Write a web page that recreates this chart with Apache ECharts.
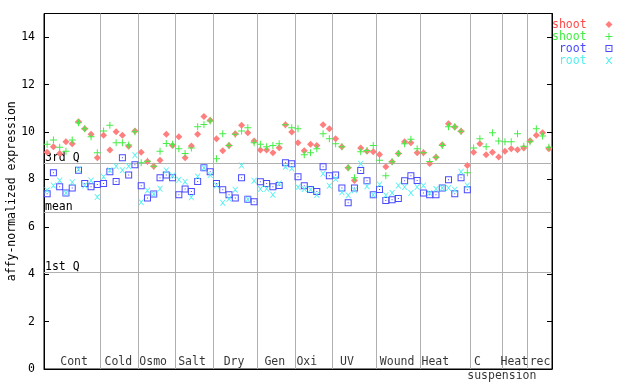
<!DOCTYPE html>
<html><head><meta charset="utf-8">
<script src="https://cdn.jsdelivr.net/npm/echarts@6/dist/echarts.min.js"></script>
<style>html,body{margin:0;padding:0;background:#fff}#c{width:640px;height:384px}</style>
</head><body><div id="c"></div>
<script>
// ---- data ----
const groupNames = ['Cont','Cold','Osmo','Salt','Dry','Gen','Oxi','UV','Wound','Heat','C','Heat','rec'];
const groupSizes = [9,6,6,6,7,6,6,7,7,8,5,4,4];
const groupLabelAt = [4.8,11.85,17.4,23.6,30.3,36.8,41.9,48.3,56.3,62.4,69.1,75.0,79.1];
const subLabel = 'suspension';
const subLabelAt = 73.0;

const shootA = [9.15,9.38,9.09,9.59,9.50,10.43,10.14,9.90,8.91,
  9.86,9.24,10.01,9.86,9.40,10.04,
  9.15,8.76,8.56,8.81,9.90,9.43,
  9.80,8.91,9.41,9.90,10.65,10.50,
  9.72,9.21,9.43,9.93,10.28,9.97,9.62,
  9.24,9.24,9.12,9.34,10.31,10.00,
  9.55,9.21,9.48,9.43,10.31,10.14,
  9.71,9.38,8.49,7.95,9.33,9.19,9.17,
  9.05,8.53,8.74,9.09,9.59,9.55,9.12,
  9.12,8.67,8.93,9.46,10.35,10.21,10.03,8.59,
  9.15,9.50,9.04,9.15,8.95,
  9.19,9.29,9.25,9.33,
  9.63,9.86,9.97,9.29];
const shootB = [9.48,9.66,9.36,9.19,9.66,10.39,10.14,9.80,9.12,
  10.04,10.28,9.55,9.55,9.45,10.01,
  8.70,8.77,8.56,9.19,9.52,9.48,
  9.29,9.09,9.33,10.22,10.32,10.46,
  8.87,9.93,9.43,9.90,10.04,10.18,9.55,
  9.48,9.38,9.43,9.50,10.31,10.18,
  10.14,9.04,9.12,9.29,9.93,9.72,
  9.50,9.38,8.49,8.07,9.17,9.22,9.43,
  8.81,8.15,8.74,9.09,9.50,9.69,9.29,
  9.12,8.76,8.93,9.43,10.22,10.22,10.03,8.28,
  9.33,9.72,9.38,9.97,9.62,
  9.59,9.59,9.93,9.40,
  9.59,10.14,9.83,9.36];
const rootA = [7.39,8.28,7.69,7.43,7.64,8.39,7.83,7.69,7.78,
  7.83,8.32,7.91,8.91,8.19,8.62,
  7.73,7.22,7.38,8.07,8.19,8.07,
  7.35,7.60,7.49,7.91,8.49,8.32,
  7.83,7.56,7.35,7.22,8.07,7.16,7.06,
  7.90,7.83,7.69,7.74,8.70,8.66,
  8.11,7.73,7.57,7.49,8.53,8.15,
  8.19,7.64,7.01,7.64,8.38,7.94,7.35,
  7.57,7.11,7.14,7.19,7.94,8.15,7.95,
  7.43,7.35,7.35,7.64,7.99,7.39,8.07,7.56,
  null,null,null,null,null,
  null,null,null,null,
  null,null,null,null];
const rootB = [7.54,7.74,7.95,7.43,7.88,8.42,7.74,7.95,7.26,
  8.11,8.39,8.56,8.39,8.56,9.02,
  7.04,7.53,7.38,7.61,8.38,8.16,
  7.99,7.90,7.25,8.12,8.49,8.19,
  7.74,7.01,7.18,7.56,8.59,7.16,7.94,
  7.60,7.61,7.35,7.83,8.53,8.46,
  7.67,7.60,7.57,7.35,8.24,7.73,
  8.02,7.46,7.33,7.54,8.66,7.71,7.35,
  7.78,7.33,7.43,7.74,7.68,7.43,7.68,
  7.74,7.43,7.60,7.64,7.64,7.56,8.32,7.74,
  null,null,null,null,null,
  null,null,null,null,
  null,null,null,null];

const quantileNames = ['3rd Q','mean','1st Q'];
const quantileValues = [8.70,6.63,4.08];
const yTicks = [0,2,4,6,8,10,12,14];
const seriesIds = ['s1','s2','r1','r2'];
const seriesLabels = ['shoot','shoot','root','root'];
const yTitle = 'affy-normalized expression';

// ---- styles ----
const FONT = 'DejaVu Sans Mono';
const FS = 11.5;
const colors = ['#ff4a4a','#44ee44','#4a4aff','#55f0f0'];
const symbols = [
  'diamond',
  'path://M3,0H4V3H7V4H4V7H3V4H0V3H3Z',
  'path://M0,0H7V7H0Z M1,1V6H6V1Z M3,3H4V4H3Z',
  'path://M0,0H1.2L3.5,2.5L5.8,0H7L4.1,3.5L7,7H5.8L3.5,4.5L1.2,7H0L2.9,3.5Z'
];
const symbolSizes = [7,7,7,6];
const fillColors = ['#ff7e7e','#44ee44','#4a4aff','#55f0f0'];

const total = groupSizes.reduce((a,b)=>a+b,0);
const bounds = [];
{ let s = 0; for (let i = 0; i < groupSizes.length - 1; i++) { s += groupSizes[i]; bounds.push(s); } }

function pts(arr){ return arr.map((v,i)=> v==null ? null : [i+0.5, v]).filter(p=>p); }
const allSeries = [shootA, shootB, rootA, rootB];

const chart = echarts.init(document.getElementById('c'), null, {renderer:'canvas'});
const series = [];
series.push({
  type:'scatter', name:'_v', data:[], silent:true, z:1,
  markLine:{ silent:true, z:1, symbol:['none','none'], animation:false,
    label:{show:false}, lineStyle:{color:'#b0b0b0', width:1, type:'solid'},
    emphasis:{disabled:true},
    data: bounds.map(b=>({xAxis:b})) }
});
series.push({
  type:'scatter', name:'_h', data:[], silent:true, z:1,
  markLine:{ silent:true, z:1, symbol:['none','none'], animation:false,
    lineStyle:{color:'#b0b0b0', width:1, type:'solid'},
    emphasis:{disabled:true},
    label:{show:true, position:'insideStartTop', formatter:'{b}', distance:[1,-1],
      color:'#000', fontFamily:FONT, fontSize:FS},
    data: quantileValues.map((v,i)=>({yAxis:v, name:quantileNames[i]})) }
});
allSeries.forEach((arr,k)=>{
  series.push({
    type:'scatter', name:seriesIds[k], data:pts(arr), z:2+k,
    symbol:symbols[k], symbolSize:symbolSizes[k],
    itemStyle:{color:fillColors[k], opacity:1},
    emphasis:{disabled:true}, clip:false
  });
});
series.push({
  type:'scatter', name:'_labels', silent:true, z:10, clip:false,
  symbolSize:1, itemStyle:{color:'rgba(0,0,0,0)'},
  data: groupNames.map((n,i)=>({value:[groupLabelAt[i],0], name:n}))
    .concat([{value:[subLabelAt,0], name:subLabel,
      label:{position:'bottom', distance:1}}]),
  label:{show:true, position:'top', distance:0, formatter:'{b}',
    color:'#000', fontFamily:FONT, fontSize:FS}
});

chart.setOption({
  animation:false,
  backgroundColor:'#fff',
  grid:{left:44, right:88, top:13.5, bottom:15, show:true, borderColor:'#000', borderWidth:1,
    backgroundColor:'transparent', containLabel:false, outerBoundsMode:'none'},
  xAxis:{type:'value', min:0, max:total,
    axisLine:{show:true, lineStyle:{color:'#000'}}, axisTick:{show:false},
    axisLabel:{show:false}, splitLine:{show:false}},
  yAxis:[{type:'value', min:0, max:15, interval:2, position:'left',
    axisLine:{show:true, lineStyle:{color:'#000'}},
    axisTick:{show:true, inside:true, length:5, lineStyle:{color:'#000'}},
    axisLabel:{margin:9, color:'#000', fontFamily:FONT, fontSize:FS, showMaxLabel:false,
      formatter:v=> yTicks.includes(v) ? String(v) : ''},
    splitLine:{show:false},
    name:yTitle, nameLocation:'middle', nameGap:26, nameRotate:90, nameMoveOverlap:false,
    nameTextStyle:{color:'#000', fontFamily:FONT, fontSize:FS}},
   {type:'value', min:0, max:15, interval:2, position:'right',
    axisLine:{show:true, lineStyle:{color:'#000'}},
    axisTick:{show:true, inside:true, length:5, lineStyle:{color:'#000'}},
    axisLabel:{show:false}, splitLine:{show:false}}],
  legend:{orient:'vertical', left:552, top:18.6, padding:0, itemGap:0,
    itemWidth:7, itemHeight:7, align:'right', selectedMode:false,
    data: seriesIds.map((id,k)=>({name:id, textStyle:{color:colors[k]}})),
    formatter: n => seriesLabels[seriesIds.indexOf(n)].padStart(5).padEnd(7),
    textStyle:{fontFamily:FONT, fontSize:FS, lineHeight:10.7}},
  series: series
});
</script></body></html>
